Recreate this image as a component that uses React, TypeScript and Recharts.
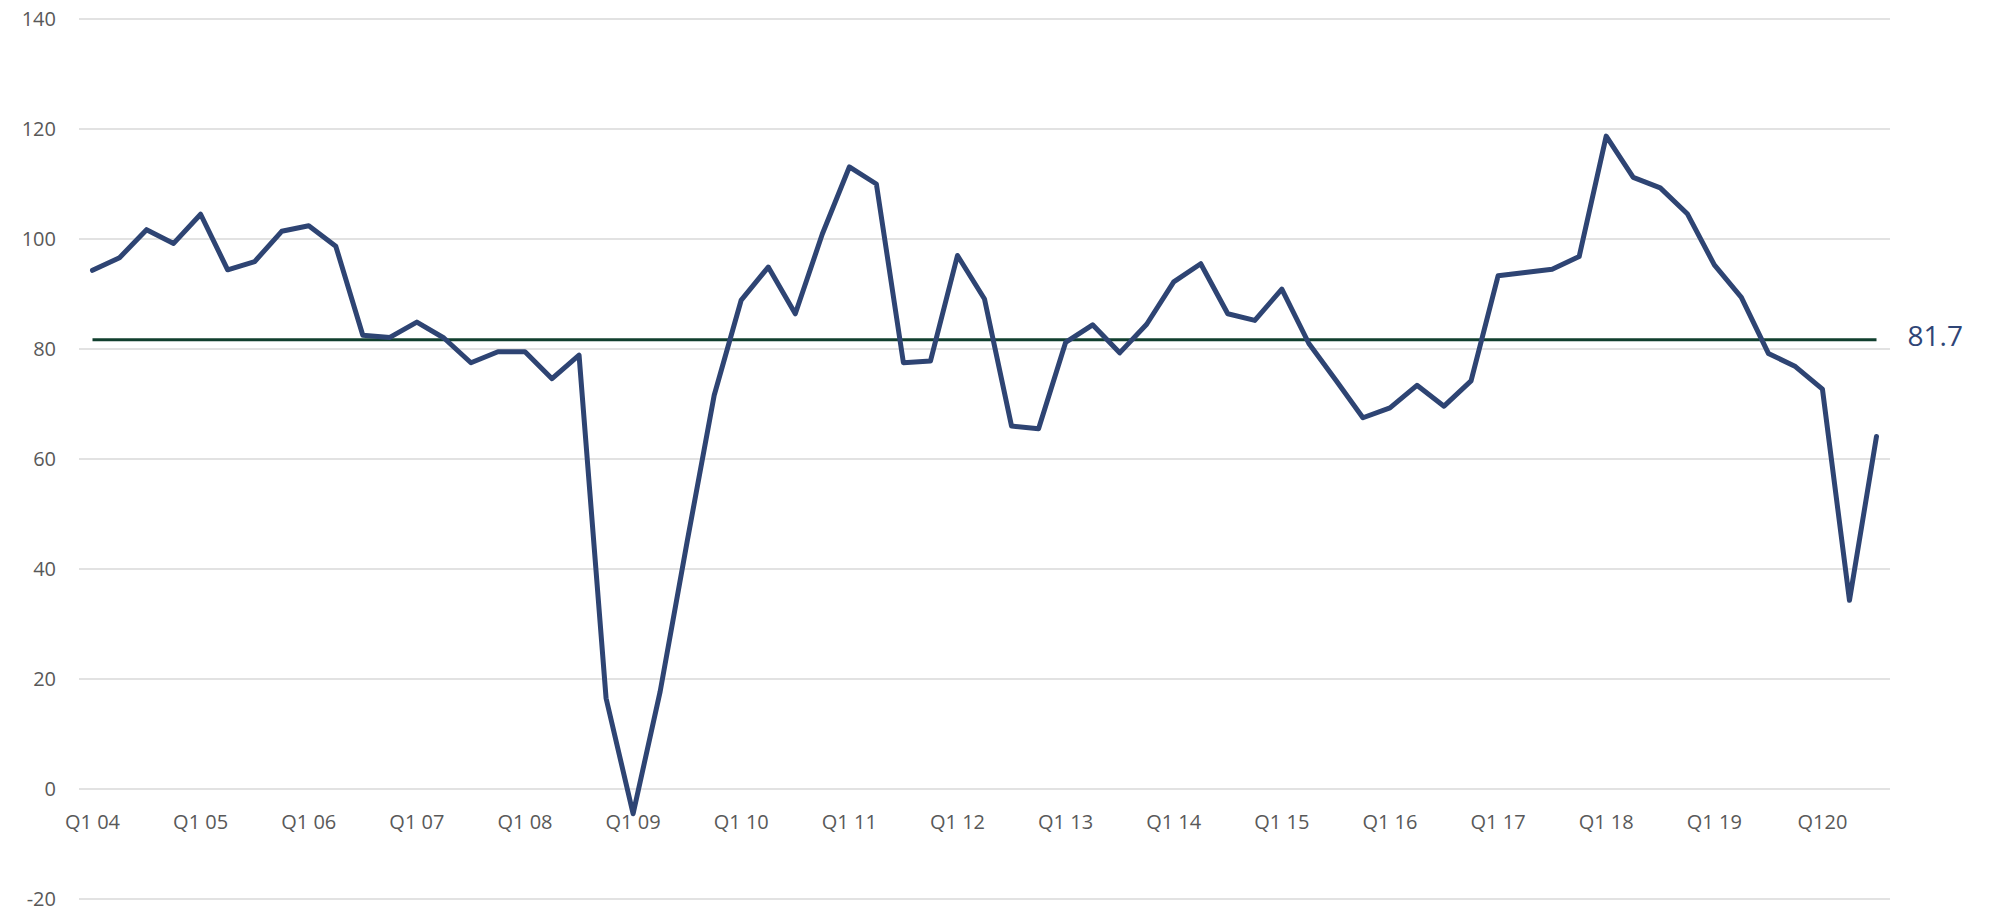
import React from 'react';
import { LineChart, Line, XAxis, YAxis, CartesianGrid } from 'recharts';

const quarters = [
  'Q1 04', 'Q2 04', 'Q3 04', 'Q4 04',
  'Q1 05', 'Q2 05', 'Q3 05', 'Q4 05',
  'Q1 06', 'Q2 06', 'Q3 06', 'Q4 06',
  'Q1 07', 'Q2 07', 'Q3 07', 'Q4 07',
  'Q1 08', 'Q2 08', 'Q3 08', 'Q4 08',
  'Q1 09', 'Q2 09', 'Q3 09', 'Q4 09',
  'Q1 10', 'Q2 10', 'Q3 10', 'Q4 10',
  'Q1 11', 'Q2 11', 'Q3 11', 'Q4 11',
  'Q1 12', 'Q2 12', 'Q3 12', 'Q4 12',
  'Q1 13', 'Q2 13', 'Q3 13', 'Q4 13',
  'Q1 14', 'Q2 14', 'Q3 14', 'Q4 14',
  'Q1 15', 'Q2 15', 'Q3 15', 'Q4 15',
  'Q1 16', 'Q2 16', 'Q3 16', 'Q4 16',
  'Q1 17', 'Q2 17', 'Q3 17', 'Q4 17',
  'Q1 18', 'Q2 18', 'Q3 18', 'Q4 18',
  'Q1 19', 'Q2 19', 'Q3 19', 'Q4 19',
  'Q120', 'Q2 20', 'Q3 20',
];

const indexValues = [
  94.3, 96.6, 101.7, 99.2,
  104.5, 94.4, 95.9, 101.4,
  102.4, 98.7, 82.5, 82.1,
  84.9, 82.0, 77.5, 79.5,
  79.5, 74.6, 78.9, 16.5,
  -4.5, 17.7, 45.0, 71.6,
  88.9, 94.9, 86.4, 100.9,
  113.1, 110.0, 77.5, 77.8,
  97.0, 89.1, 66.0, 65.5,
  81.2, 84.4, 79.3, 84.5,
  92.2, 95.5, 86.4, 85.2,
  90.9, 81.0, 74.3, 67.5,
  69.3, 73.4, 69.6, 74.2,
  93.3, 93.9, 94.5, 96.8,
  118.7, 111.2, 109.3, 104.6,
  95.3, 89.4, 79.2, 76.8,
  72.7, 34.3, 64.1,
];

const average = 81.7;
const yTicks = [-20, 0, 20, 40, 60, 80, 100, 120, 140];

const data = quarters.map((q, i) => ({ q, value: indexValues[i], avg: average }));

const W = 1989;
const H = 912;
const TOP = 19;
const X_AXIS_H = 13;
const PLOT_H = H - TOP - X_AXIS_H;
const Y_MIN = yTicks[0];
const Y_MAX = yTicks[yTicks.length - 1];
const FONT = '"Open Sans", "DejaVu Sans", sans-serif';

// Excel draws the category labels where the axis crosses zero
const zeroY = TOP + (PLOT_H * (Y_MAX - 0)) / (Y_MAX - Y_MIN);

const XTick = (props: any) => {
  const { x, payload } = props;
  return (
    <text x={x} y={zeroY + 40} textAnchor="middle" fill="#595959" fontSize={20} fontFamily={FONT}>
      {payload.value}
    </text>
  );
};

const AvgLabel = (props: any) => {
  const { x, y, index } = props;
  if (index !== data.length - 1) return null;
  return (
    <text x={x + 31} y={y + 6.5} fill="#2F4576" fontSize={28} fontFamily={FONT}>
      {average}
    </text>
  );
};

export default function App() {
  return (
    <div style={{ position: 'absolute', left: 0, top: 0, width: W, height: H, background: '#fff', fontFamily: FONT }}>
      <LineChart width={W} height={H} data={data} margin={{ top: TOP, right: 99, bottom: 0, left: 0 }}>
        <CartesianGrid vertical={false} stroke="#D9D9D9" strokeWidth={1.5} />
        <XAxis
          dataKey="q"
          interval={3}
          height={X_AXIS_H}
          axisLine={false}
          tickLine={false}
          padding={{ left: 13.5, right: 13.5 }}
          tick={XTick}
        />
        <YAxis
          domain={[Y_MIN, Y_MAX]}
          ticks={yTicks}
          interval={0}
          width={79}
          axisLine={false}
          tickLine={false}
          tickMargin={17}
          tick={{ fill: '#595959', fontSize: 20, fontFamily: FONT }}
        />
        <Line
          dataKey="avg"
          stroke="#113F2E"
          strokeWidth={3}
          dot={false}
          isAnimationActive={false}
          label={AvgLabel}
        />
        <Line
          dataKey="value"
          type="linear"
          stroke="#2E4473"
          strokeWidth={5}
          strokeLinejoin="round"
          strokeLinecap="round"
          dot={false}
          isAnimationActive={false}
        />
      </LineChart>
    </div>
  );
}
